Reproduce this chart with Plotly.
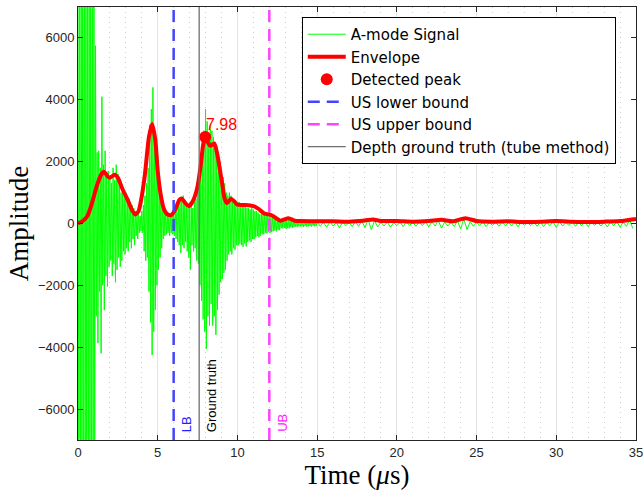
import numpy as np
import plotly.graph_objects as go

# A-mode RF samples: 0-15 us every 0.05 us, then 15-35 us every 0.2 us
head_dt = 0.05
signal_head = [
    8000, -9000, 10500, -11000, 12000, -12500, 11500, -12000, 12500, -11500,
    11000, -12000, 10500, -11000, 10000, -10500, 9500, -10000, 9000, -9000,
    8000, -7500, 5750, -3000, 2300, -3870, 2350, -2200, 1800, -4200,
    4100, -2000, 1900, -2800, 2350, -1700, 1500, -2040, 1700, -1400,
    1500, -1200, 1300, -1700, 1800, -1300, 1400, -1900, 1900, -1500,
    1600, -1100, 1300, -1400, 1000, -1200, 1100, -900, 900, -1000,
    1000, -800, 700, -900, 800, -600, 700, -800, 600, -500,
    500, -700, 400, -400, 350, -500, 300, -300, 250, -250,
    400, -300, 600, -900, 900, -1200, 1300, -1100, 1800, -2200,
    3200, -3200, 3700, -4250, 4400, -3500, 3100, -2800, 2600, -2000,
    2200, -1500, 1500, -1100, 1000, -800, 700, -500, 500, -400,
    400, -350, 350, -300, 300, -400, 250, -300, 300, -350,
    350, -400, 450, -500, 500, -600, 650, -700, 750, -950,
    800, -700, 900, -800, 750, -600, 600, -900, 500, -1100,
    500, -1500, 600, -700, 500, -900, 700, -800, 800, -1200,
    1200, -1300, 1300, -2000, 2000, -2500, 2500, -3100, 3000, -3500,
    3700, -4050, 3300, -3000, 2800, -3300, 3200, -2600, 3000, -3300,
    2800, -3000, 2600, -3600, 2500, -2800, 2200, -2300, 2000, -1900,
    1700, -1800, 1500, -1600, 1300, -1500, 1000, -1200, 900, -1000,
    1000, -900, 900, -1000, 800, -800, 700, -850, 700, -700,
    650, -700, 700, -650, 600, -700, 550, -750, 600, -650,
    550, -740, 500, -600, 500, -550, 450, -600, 500, -500,
    450, -500, 400, -450, 400, -400, 350, -450, 300, -400,
    300, -350, 280, -350, 300, -300, 250, -320, 250, -280,
    250, -300, 200, -280, 220, -250, 200, -230, 180, -250,
    150, -200, 130, -220, 100, -150, 120, -160, 100, -140,
    120, -180, 100, -150, 140, -160, 100, -120, 80, -140,
    80, -120, 70, -100, 60, -110, 70, -90, 60, -100,
    60, -90, 50, -110, 70, -80, 50, -100, 40, -90,
    50, -80, 40, -100, 50, -70, 40, -90, 30, -80,
]
tail_start = 15.0
tail_dt = 0.2
signal_tail = [
    50, -90, 40, -120, 60, -80, 30, -140, 50, -70,
    40, -100, 60, -90, 80, -130, 120, -200, 90, -110,
    40, -80, 50, -120, 30, -70, 40, -100, 50, -60,
    30, -90, 40, -70, 60, -110, 50, -80, 100, -150,
    50, -80, 40, -100, 90, -180, 150, -200, 60, -90,
    40, -70, 50, -100, 30, -60, 40, -90, 50, -70,
    30, -80, 40, -110, 50, -60, 30, -70, 40, -90,
    50, -100, 40, -70, 60, -130, 50, -80, 30, -60,
    40, -90, 30, -70, 50, -100, 40, -60, 30, -80,
    40, -110, 50, -70, 60, -120, 40, -90, 120, -160,
]

# Envelope of the signal (time in us, amplitude)
env_time = [0.0, 0.3, 0.6, 0.9, 1.2, 1.5, 1.65, 1.85, 2.0, 2.3, 2.5, 2.8, 3.1, 3.4, 3.6,
            3.8, 4.0, 4.2, 4.45, 4.65, 4.85, 5.0, 5.2, 5.4, 5.6, 5.85, 6.1, 6.35, 6.5,
            6.7, 6.95, 7.2, 7.5, 7.7, 7.85, 7.98, 8.15, 8.3, 8.55, 8.75, 9.0, 9.2, 9.35,
            9.6, 9.8, 10.0, 10.5, 11.0, 11.3, 11.7, 12.05, 12.3, 12.7, 13.2, 13.6, 14.0,
            15, 16, 17, 18, 18.5, 19, 20, 21, 22, 22.8, 23.5, 24.3, 25, 26, 27, 28, 29,
            30, 31, 32, 33, 34, 35]
env_value = [0, 80, 250, 700, 1250, 1620, 1670, 1530, 1480, 1580, 1480, 1100, 780, 420, 290,
             400, 880, 1600, 2800, 3220, 2700, 1700, 900, 450, 300, 270, 450, 760, 810,
             680, 560, 720, 1200, 1900, 2550, 2800, 2620, 2510, 2590, 2200, 1430, 800, 660,
             800, 720, 610, 600, 560, 480, 320, 290, 220, 90, 170, 90, 80,
             70, 70, 60, 100, 130, 80, 80, 60, 80, 120, 70, 170, 80, 60, 70, 50, 60,
             80, 60, 50, 60, 80, 150]

peak_time = 7.98
peak_value = 2800
lower_bound = 6.0
upper_bound = 12.0
ground_truth = 7.6

y_limits = [-7000, 7000]
x_limits = [0, 35.001]
y_ticks = [-6000, -4000, -2000, 0, 2000, 4000, 6000]
x_ticks = [0, 5, 10, 15, 20, 25, 30, 35]

sig_t = np.concatenate([np.arange(len(signal_head)) * head_dt,
                        tail_start + np.arange(len(signal_tail)) * tail_dt])
sig_v = np.array(signal_head + signal_tail)

fig = go.Figure()
fig.add_trace(go.Scatter(x=sig_t, y=sig_v, mode="lines", name="A-mode Signal",
                         line=dict(color="#00ff00", width=1)))
fig.add_trace(go.Scatter(x=env_time, y=env_value, mode="lines", name="Envelope",
                         line=dict(color="#ff0000", width=4, shape="spline", smoothing=0.6)))
fig.add_trace(go.Scatter(x=[peak_time], y=[peak_value], mode="markers", name="Detected peak",
                         marker=dict(color="#ff0000", size=12)))
fig.add_trace(go.Scatter(x=[lower_bound, lower_bound], y=y_limits, mode="lines",
                         name="US lower bound",
                         line=dict(color="#4444ff", width=2.5, dash="12px,7px")))
fig.add_trace(go.Scatter(x=[upper_bound, upper_bound], y=y_limits, mode="lines",
                         name="US upper bound",
                         line=dict(color="#ff44ff", width=2.5, dash="12px,7px")))
fig.add_trace(go.Scatter(x=[ground_truth, ground_truth], y=y_limits, mode="lines",
                         name="Depth ground truth (tube method)",
                         line=dict(color="#6e6e6e", width=1.3)))

label_font = "Liberation Sans, Arial, sans-serif"
fig.add_annotation(x=peak_time, y=peak_value, text=f"{peak_time:.2f}", showarrow=False,
                   xanchor="left", yanchor="bottom", xshift=-1, yshift=2,
                   font=dict(color="#ff0000", size=16, family=label_font))
for xpos, txt, col in [(lower_bound, "LB", "#2222ff"),
                       (ground_truth, "Ground truth", "#000000"),
                       (upper_bound, "UB", "#ff22ff")]:
    fig.add_annotation(x=xpos, y=y_limits[0], text=txt, showarrow=False, textangle=-90,
                       xanchor="center", yanchor="bottom", xshift=12.5, yshift=6,
                       font=dict(color=col, size=13, family=label_font))

axis_col = "#262626"
fig.update_xaxes(range=x_limits, tickvals=x_ticks, showline=True, linecolor=axis_col,
                 linewidth=1, mirror="ticks", ticks="inside", ticklen=5, tickcolor=axis_col,
                 showgrid=True, gridcolor="#e3e3e3", gridwidth=1, zeroline=False,
                 ticklabeloverflow="allow",
                 tickfont=dict(size=13, color=axis_col, family=label_font),
                 minor=dict(dtick=1, showgrid=True, gridcolor="#cfcfcf", griddash="1px,4px",
                            gridwidth=1),
                 title=dict(text="Time (<i>μ</i>s)", standoff=4,
                            font=dict(size=27, color="#000000",
                                      family="Liberation Serif, Times New Roman, serif")))
fig.update_yaxes(range=y_limits, tickvals=y_ticks, showline=True, linecolor=axis_col,
                 linewidth=1, mirror="ticks", ticks="inside", ticklen=5, tickcolor=axis_col,
                 showgrid=False, zeroline=False,
                 tickfont=dict(size=13, color=axis_col, family=label_font),
                 title=dict(text="Amplitude", standoff=1,
                            font=dict(size=27, color="#000000",
                                      family="Liberation Serif, Times New Roman, serif")))

fig.update_layout(
    width=643, height=495,
    margin=dict(l=78, r=7, t=7, b=55, autoexpand=False),
    plot_bgcolor="#ffffff", paper_bgcolor="#ffffff",
    showlegend=True,
    legend=dict(x=0.401, y=0.977, xanchor="left", yanchor="top",
                bgcolor="#ffffff", bordercolor="#000000", borderwidth=1,
                font=dict(size=15, color="#000000", family="DejaVu Sans, sans-serif"),
                tracegroupgap=0, itemwidth=38),
)

fig.write_html("out.html")
